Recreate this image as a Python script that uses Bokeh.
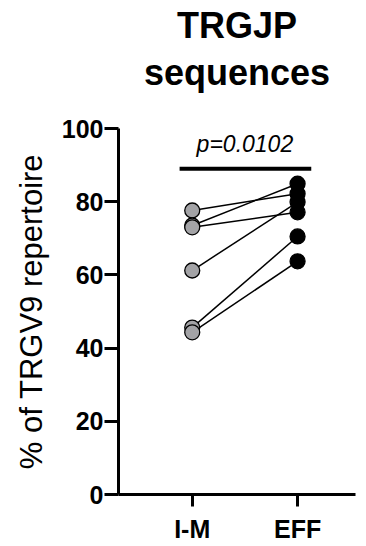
from bokeh.plotting import figure
from bokeh.models import FixedTicker, Title, ColumnDataSource
from bokeh.embed import file_html
from bokeh.resources import INLINE
from bokeh.core.properties import value

categories = ["I-M", "EFF"]
im_values = [77.6, 73.5, 73.0, 61.2, 45.6, 44.3]
eff_values = [82.2, 84.9, 77.1, 79.9, 70.5, 63.7]
y_ticks = [0, 20, 40, 60, 80, 100]
p_text = "p=0.0102"
title_lines = ["TRGJP", "sequences"]

FONT = "Liberation Sans"
cat_x = [1, 2]

p = figure(width=366, height=546, x_range=(0.3, 2.55), y_range=(0, 100),
           output_backend="svg", toolbar_location=None,
           min_border_left=118, min_border_right=11, min_border_bottom=52, min_border_top=128)
p.xgrid.visible = False
p.ygrid.visible = False
p.outline_line_color = None
p.background_fill_color = "white"
p.border_fill_color = "white"

p.title.text = title_lines[0]
p.title.align = "center"
p.title.text_font = FONT
p.title.text_font_size = "36px"
p.title.text_font_style = "bold"
p.title.text_color = "black"
p.title.standoff = -63
p.add_layout(Title(text=title_lines[1], align="center", text_font=FONT, text_font_size="36px",
                   text_font_style="bold", text_color="black", standoff=71), "above")

# axes
for ax in (p.xaxis, p.yaxis):
    ax.axis_line_width = 3
    ax.major_tick_line_width = 3
    ax.minor_tick_line_color = None
    ax.major_tick_in = 0
    ax.major_label_text_font = FONT
    ax.major_label_text_font_style = "bold"
    ax.major_label_text_font_size = "25px"
    ax.major_label_text_color = "black"
    ax.axis_line_color = "black"
    ax.major_tick_line_color = "black"

p.yaxis.ticker = FixedTicker(ticks=y_ticks)
p.yaxis.major_tick_out = 14
p.yaxis.major_label_standoff = 1
p.yaxis.axis_label = "% of TRGV9 repertoire"
p.yaxis.axis_label_text_font = FONT
p.yaxis.axis_label_text_font_size = "31px"
p.yaxis.axis_label_text_font_style = "normal"
p.yaxis.axis_label_text_color = "black"
p.yaxis.axis_label_standoff = 10

p.xaxis.ticker = FixedTicker(ticks=cat_x)
p.xaxis.major_label_overrides = {1: categories[0], 2: categories[1]}
p.xaxis.major_tick_out = 12
p.xaxis.major_label_standoff = 8

# paired lines
src = ColumnDataSource(dict(x0=[cat_x[0]] * len(im_values), y0=im_values,
                            x1=[cat_x[1]] * len(eff_values), y1=eff_values))
p.segment(x0="x0", y0="y0", x1="x1", y1="y1", source=src, line_color="black", line_width=1.5)
p.scatter(x=[cat_x[0]] * len(im_values), y=im_values, size=15, fill_color="#a3a3a6",
          line_color="black", line_width=1.3)
p.scatter(x=[cat_x[1]] * len(eff_values), y=eff_values, size=15, fill_color="black",
          line_color="black", line_width=1.3)

# significance bar
p.segment(x0=[0.88], y0=[89], x1=[2.13], y1=[89], line_color="black", line_width=4)
p.text(x=[1.5], y=[92.2], text=[p_text], text_font=value(FONT), text_font_size="23px",
       text_font_style="italic", text_align="center", text_baseline="bottom", text_color="black")

open("out.html", "w").write(file_html(p, INLINE))
